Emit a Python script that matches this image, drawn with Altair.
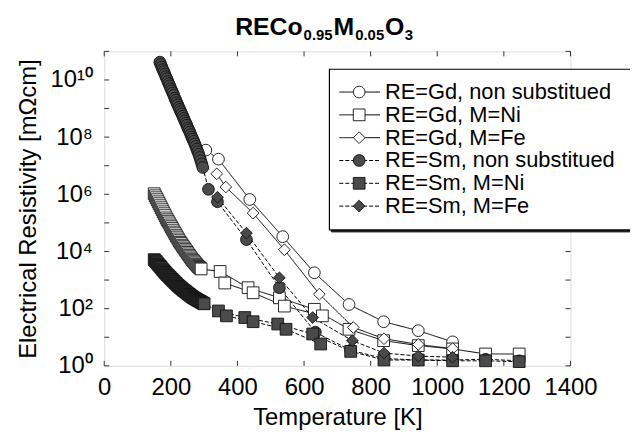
import altair as alt
import pandas as pd

# ---------------- data ----------------
series_names = ["RE=Gd, non substitued", "RE=Gd, M=Ni", "RE=Gd, M=Fe",
                "RE=Sm, non substitued", "RE=Sm, M=Ni", "RE=Sm, M=Fe"]

# RE=Gd, non substituted (open circles)
gd_non_T = [305, 343, 437, 536, 631, 735, 839, 943, 1046]
gd_non_R = [3.5e7, 1.7e7, 6.6e5, 3.3e4, 1.8e3, 140, 35, 17, 6.9]

# RE=Gd, M=Ni (open squares): low-T sweep + first high-T run, then second run
gd_ni_T = [150, 153, 156, 159, 162, 165, 168, 171, 174, 177, 180, 183, 186, 189,
           192, 195, 198, 201, 204, 207, 210, 213, 216, 219, 222, 225, 228, 231,
           234, 237, 240, 243, 246, 249, 252, 255, 258, 261, 264, 267, 270, 273,
           276, 279, 282, 285, 288, 291,
           348, 432, 526, 631, 735, 839, 943, 1046, 1145, 1246]
gd_ni_R = [1.05e6, 8.9e5, 7.6e5, 6.5e5, 5.5e5, 4.7e5, 4.0e5, 3.4e5, 2.9e5, 2.45e5,
           2.1e5, 1.8e5, 1.5e5, 1.3e5, 1.15e5, 1.0e5, 8.5e4, 7.4e4, 6.5e4, 5.6e4,
           4.8e4, 4.2e4, 3.6e4, 3.2e4, 2.75e4, 2.4e4, 2.1e4, 1.9e4, 1.66e4, 1.48e4,
           1.32e4, 1.17e4, 1.05e4, 9.3e3, 8.3e3, 7.4e3, 6.6e3, 5.9e3, 5.2e3, 4.8e3,
           4.4e3, 4.0e3, 3.6e3, 3.3e3, 3.0e3, 2.8e3, 2.6e3, 2.45e3,
           2.0e3, 540, 240, 95, 19, 7.6, 5.1, 3.9, 2.6, 2.6]
gd_ni_T2 = [362, 447, 541, 655]
gd_ni_R2 = [790, 360, 123, 56]

# RE=Gd, M=Fe (open diamonds)
gd_fe_T = [338, 365, 447, 541, 646, 748, 840, 943, 1046]
gd_fe_R = [5.2e6, 1.8e6, 2.2e5, 1.15e4, 320, 22, 8.9, 5.6, 4.0]

# RE=Sm, non substituted (filled circles)
sm_non_T = [167, 170, 173, 176, 179, 182, 185, 188, 191, 194, 197, 200, 203, 206,
            209, 212, 215, 218, 221, 224, 227, 230, 233, 236, 239, 242, 245, 248,
            251, 254, 257, 260, 263, 266, 269, 272, 275, 278, 281, 284, 287, 290,
            293, 296,
            313, 340, 427, 526, 634, 740, 840, 943, 1046, 1145, 1246]
sm_non_R = [4.2e10, 3.5e10, 2.8e10, 2.3e10, 1.95e10, 1.6e10, 1.3e10, 1.1e10, 8.9e9,
            7.4e9, 6.2e9, 5.0e9, 4.2e9, 3.5e9, 2.9e9, 2.3e9, 1.95e9, 1.6e9, 1.35e9,
            1.1e9, 9.3e8, 7.8e8, 6.5e8, 5.4e8, 4.5e8, 3.7e8, 3.1e8, 2.6e8, 2.1e8,
            1.8e8, 1.5e8, 1.23e8, 1.0e8, 8.5e7, 7.1e7, 5.8e7, 4.7e7, 3.8e7, 3.1e7,
            2.5e7, 1.95e7, 1.5e7, 1.15e7, 8.7e6,
            1.5e6, 5.5e5, 2.6e4, 540, 15, 3.5, 1.8, 1.6, 1.6, 1.7, 1.5]

# RE=Sm, M=Ni (filled squares)
sm_ni_T = [150, 153, 156, 159, 162, 165, 168, 171, 174, 177, 180, 183, 186, 189,
           192, 195, 198, 201, 204, 207, 210, 213, 216, 219, 222, 225, 228, 231,
           234, 237, 240, 243, 246, 249, 252, 255, 258, 261, 264, 267, 270, 273,
           276, 279, 282, 285, 288, 291, 294, 297, 300,
           343, 422, 521, 626, 740, 840, 943, 1046, 1145, 1246]
sm_ni_R = [5.2e3, 4.8e3, 4.4e3, 4.0e3, 3.6e3, 3.3e3, 3.0e3, 2.75e3, 2.45e3, 2.24e3,
           2.04e3, 1.86e3, 1.7e3, 1.55e3, 1.45e3, 1.32e3, 1.23e3, 1.12e3, 1.05e3,
           955, 890, 810, 760, 690, 645, 600, 560, 525, 490, 457, 427, 407, 380,
           355, 331, 316, 295, 275, 263, 245, 234, 224, 214, 204, 195, 186, 178,
           170, 162, 155, 148,
           83, 49, 29, 13, 3.2, 1.6, 1.6, 1.5, 1.5, 1.4]
sm_ni_T2 = [367, 447, 546, 650]
sm_ni_R2 = [56, 35, 19, 5.8]

# RE=Sm, M=Fe (filled diamonds)
sm_fe_T = [340, 427, 526, 626, 745, 840, 943, 1046]
sm_fe_R = [7.9e5, 4.4e4, 1.2e3, 49, 7.6, 2.8, 2.2, 2.0]

x_ticks = [0, 200, 400, 600, 800, 1000, 1200, 1400]
y_ticks = [1e0, 1e1, 1e2, 1e3, 1e4, 1e5, 1e6, 1e7, 1e8, 1e9, 1e10, 1e11]
y_label_values = [1e0, 1e2, 1e4, 1e6, 1e8, 1e10]
y_label_texts = ["10⁰", "10²", "10⁴", "10⁶", "10⁸", "10¹⁰"]

# ---------------- build table ----------------
runs = [
    (series_names[0], gd_non_T, gd_non_R, "a"),
    (series_names[1], gd_ni_T, gd_ni_R, "a"),
    (series_names[1], gd_ni_T2, gd_ni_R2, "b"),
    (series_names[2], gd_fe_T, gd_fe_R, "a"),
    (series_names[3], sm_non_T, sm_non_R, "a"),
    (series_names[4], sm_ni_T, sm_ni_R, "a"),
    (series_names[4], sm_ni_T2, sm_ni_R2, "b"),
    (series_names[5], sm_fe_T, sm_fe_R, "a"),
]
rows = []
for name, T, R, run in runs:
    for i, (t, r) in enumerate(zip(T, R)):
        rows.append({"series": name, "T": t, "R": r, "run": run, "order": i,
                     "sidx": series_names.index(name)})
df = pd.DataFrame(rows).sort_values(["sidx", "run", "order"], kind="stable")

W, H = 470, 317
FONT = "Liberation Sans"
MSIZE = 140

fills = ["white", "white", "white", "#4a4a4a", "#4a4a4a", "#4a4a4a"]
shapes = ["circle", "square", "diamond", "circle", "square", "diamond"]
dashes = [[1, 0], [1, 0], [1, 0], [4, 2], [4, 2], [4, 2]]

shape_enc = alt.Shape("series:N", scale=alt.Scale(domain=series_names, range=shapes), legend=None)
fill_enc = alt.Fill("series:N", scale=alt.Scale(domain=series_names, range=fills), legend=None)
dash_enc = alt.StrokeDash("series:N", scale=alt.Scale(domain=series_names, range=dashes), legend=None)

label_expr = "[" + ",".join("'%s'" % s for s in y_label_texts) + "][round(log(datum.value)/LN10/2)]"

x_axis = alt.Axis(values=x_ticks, format="d", labelOverlap=False, labelFlush=False,
                  grid=False, ticks=False, tickSize=0, domain=False,
                  labelFont=FONT, labelFontSize=24, labelColor="black", labelPadding=10,
                  title="Temperature [K]", titleFont=FONT, titleFontSize=24,
                  titleFontWeight="normal", titleColor="black", titlePadding=6)
y_axis = alt.Axis(values=y_label_values, labelExpr=label_expr, labelOverlap=False,
                  grid=False, ticks=False, tickSize=0, domain=False,
                  labelFont=FONT, labelFontSize=24, labelColor="black", labelPadding=12,
                  title="Electrical Resistivity [mΩcm]", titleFont=FONT, titleFontSize=24,
                  titleFontWeight="normal", titleColor="black", titlePadding=10)

x_enc = alt.X("T:Q", scale=alt.Scale(domain=[0, 1400], nice=False, zero=False), axis=x_axis)
y_enc = alt.Y("R:Q", scale=alt.Scale(type="log", domain=[1, 1e11], nice=False), axis=y_axis)

base = alt.Chart(df)

lines = base.mark_line(color="black", strokeWidth=1).encode(
    x=x_enc, y=y_enc, detail=alt.Detail("run:N"), strokeDash=dash_enc,
    order=alt.Order("order:Q"),
)
points = base.mark_point(filled=True, size=MSIZE, stroke="#111", strokeWidth=0.9,
                         opacity=1).encode(x=x_enc, y=y_enc, shape=shape_enc, fill=fill_enc)

xt = alt.Chart(pd.DataFrame({"T": x_ticks}))
xtick_bottom = xt.mark_rule(color="#333", strokeWidth=1).encode(x=x_enc, y=alt.value(H), y2=alt.value(H - 5))
xtick_top = xt.mark_rule(color="#333", strokeWidth=1).encode(x=x_enc, y=alt.value(0), y2=alt.value(5))
yt = alt.Chart(pd.DataFrame({"R": y_ticks}))
ytick_left = yt.mark_rule(color="#333", strokeWidth=1).encode(y=y_enc, x=alt.value(0), x2=alt.value(5))
ytick_right = yt.mark_rule(color="#333", strokeWidth=1).encode(y=y_enc, x=alt.value(W), x2=alt.value(W - 5))

data_layer = alt.layer(xtick_bottom, xtick_top, ytick_left, ytick_right, lines, points)

# ---------------- legend (box with line + marker + label) ----------------
one = alt.Chart(pd.DataFrame({"k": [0]}))
legend_shadow = one.mark_rect(fill="#222", stroke="#222", strokeWidth=1).encode(
    x=alt.value(229), x2=alt.value(533), y=alt.value(20), y2=alt.value(182))
legend_box = one.mark_rect(fill="white", stroke="black", strokeWidth=1.2).encode(
    x=alt.value(227), x2=alt.value(531), y=alt.value(18), y2=alt.value(180))

entries = alt.Chart(pd.DataFrame({"series": series_names, "idx": list(range(len(series_names)))})
                    ).transform_calculate(ly="41 + datum.idx * 23")
ly = alt.Y("ly:Q", scale=None)
legend_lines = entries.mark_rule(color="black", strokeWidth=1).encode(
    x=alt.value(237), x2=alt.value(278), y=ly, strokeDash=dash_enc)
legend_pts = entries.mark_point(filled=True, size=MSIZE, stroke="#111", strokeWidth=0.9,
                                opacity=1).encode(x=alt.value(257), y=ly, shape=shape_enc, fill=fill_enc)
legend_text = entries.mark_text(align="left", baseline="middle", font=FONT, fontSize=22,
                                color="black").encode(x=alt.value(283), y=ly, text="series:N")

# ---------------- title with subscripts ----------------
def title_piece(txt, x, y, size):
    return one.mark_text(text=txt, align="left", baseline="alphabetic", font=FONT,
                         fontSize=size, fontWeight="bold", color="black").encode(
        x=alt.value(x), y=alt.value(y))

title_layer = alt.layer(
    title_piece("RECo", 132, -17, 25),
    title_piece("0.95", 201, -11, 15),
    title_piece("M", 231, -17, 25),
    title_piece("0.05", 253, -11, 15),
    title_piece("O", 283, -17, 25),
    title_piece("3", 303, -11, 15),
)

overlay = alt.layer(legend_shadow, legend_box, legend_lines, legend_pts, legend_text, title_layer)

chart = alt.layer(data_layer, overlay).resolve_scale(x="independent", y="independent").properties(
    width=W, height=H,
    padding={"left": 97, "top": 42, "right": 60, "bottom": 68},
    autosize=alt.AutoSizeParams(type="none"),
).configure_view(stroke="#444", strokeWidth=1).configure(background="white")

chart.save("out.html", embed_options={"renderer": "svg", "actions": False})
